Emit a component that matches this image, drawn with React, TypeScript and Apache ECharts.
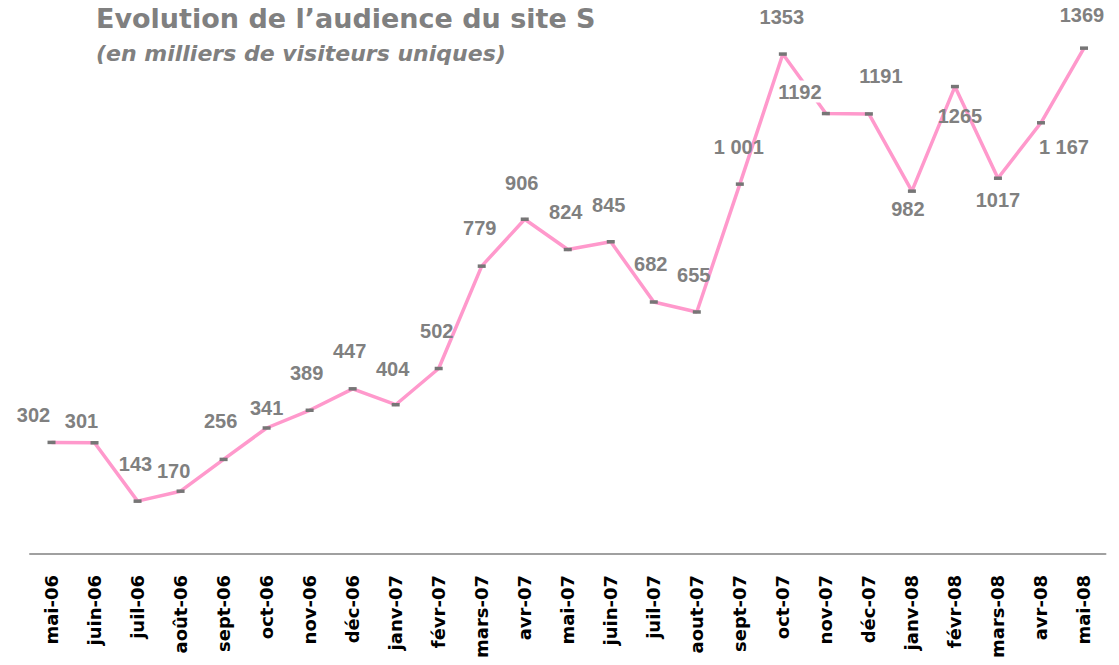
import React, { useEffect, useRef } from "react";
import * as echarts from "echarts";

const categories = [
  "mai-06", "juin-06", "juil-06", "août-06", "sept-06", "oct-06", "nov-06", "déc-06",
  "janv-07", "févr-07", "mars-07", "avr-07", "mai-07", "juin-07", "juil-07", "aout-07",
  "sept-07", "oct-07", "nov-07", "déc-07", "janv-08", "févr-08", "mars-08", "avr-08", "mai-08",
];

const visitors = [
  302, 301, 143, 170, 256, 341, 389, 447, 404, 502, 779, 906, 824, 845, 682, 655,
  1001, 1353, 1192, 1191, 982, 1265, 1017, 1167, 1369,
];

const labelTexts = [
  "302", "301", "143", "170", "256", "341", "389", "447", "404", "502", "779", "906",
  "824", "845", "682", "655", "1 001", "1353", "1192", "1191", "982", "1265", "1017",
  "1 167", "1369",
];

// label centre offsets from each point (px)
const labelOffsets: [number, number][] = [
  [-18, -27], [-13, -22], [-2, -37], [-7, -20], [-3, -38], [0, -20], [-3, -37], [-3, -38],
  [-3, -36], [-2, -38], [-2, -38], [-3, -36], [-2, -38], [-2, -37], [-3, -38], [-3, -37],
  [-1, -37], [-1, -37], [-26, -22], [12, -38], [-4, 18], [5, 29], [0, 22], [23, 24], [-2, -33],
];

const title = "Evolution de l’audience du site S";
const subtitle = "(en milliers de visiteurs uniques)";

export default function App() {
  const ref = useRef<HTMLDivElement>(null);
  useEffect(() => {
    if (!ref.current) return;
    const chart = echarts.init(ref.current, null, { renderer: "svg" });
    const data = visitors.map((v, i) => ({
      value: v,
      label: {
        formatter: labelTexts[i],
        offset: labelOffsets[i],
        ...(i === 18 ? { backgroundColor: "#ffffff", padding: [2, 1, 0, 1] } : {}),
      },
    }));
    chart.setOption({
      animation: false,
      backgroundColor: "#ffffff",
      title: {
        text: title,
        subtext: subtitle,
        left: 96,
        top: 5,
        itemGap: 10,
        padding: 0,
        textStyle: {
          fontFamily: "DejaVu Sans",
          fontWeight: "bold",
          fontSize: 27,
          color: "#808080",
        },
        subtextStyle: {
          fontFamily: "DejaVu Sans",
          fontWeight: "bold",
          fontStyle: "italic",
          fontSize: 22,
          color: "#808080",
        },
      },
      grid: { left: 30, right: 13.5, top: 36.7, bottom: 111 },
      xAxis: {
        type: "category",
        data: categories,
        boundaryGap: true,
        axisLine: { show: true, lineStyle: { color: "#a0a0a0", width: 2 } },
        axisTick: { show: false },
        splitLine: { show: false },
        axisLabel: {
          rotate: 90,
          margin: 21,
          interval: 0,
          fontFamily: "DejaVu Sans",
          fontWeight: "bold",
          fontSize: 18,
          color: "#000000",
        },
      },
      yAxis: {
        type: "value",
        min: 0,
        max: 1400,
        show: false,
        splitLine: { show: false },
      },
      series: [
        {
          type: "line",
          data,
          symbol: "rect",
          symbolSize: [8, 3.5],
          showAllSymbol: true,
          itemStyle: { color: "#767676" },
          lineStyle: { color: "#ff99cc", width: 3.5 },
          label: {
            show: true,
            position: "inside",
            align: "center",
            verticalAlign: "middle",
            fontFamily: "Liberation Sans",
            fontWeight: "bold",
            fontSize: 20,
            color: "#808080",
          },
          z: 2,
        },
      ],
    });
    return () => chart.dispose();
  }, []);
  return (
    <div
      ref={ref}
      style={{ position: "fixed", left: 0, top: 0, width: 1119, height: 665 }}
    />
  );
}
